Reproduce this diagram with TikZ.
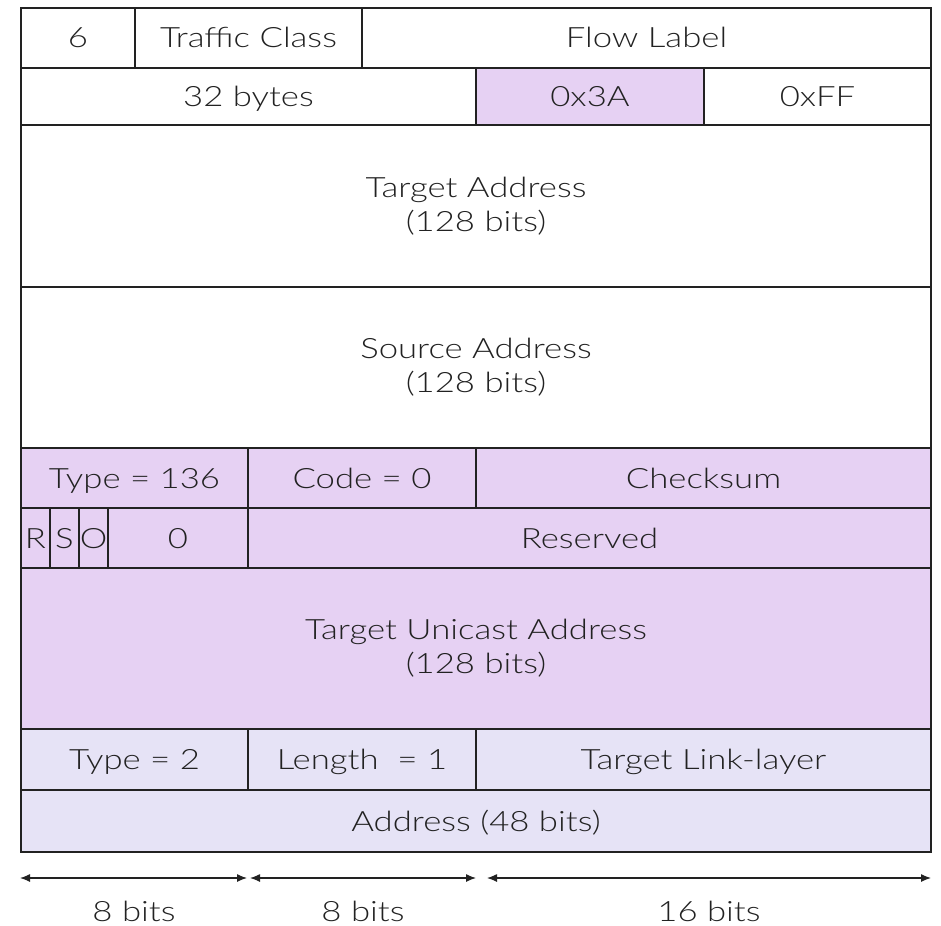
\documentclass[tikz,border=0pt]{standalone}
\usepackage{fontspec}
\setmainfont{Lato}[UprightFont=* Light, FakeStretch=1.24]
\usetikzlibrary{arrows.meta}
\definecolor{icmp}{HTML}{E6D1F3}
\definecolor{opt}{HTML}{E6E3F6}
\definecolor{ink}{HTML}{222222}
\tikzset{
  cell/.style={draw=ink, line width=1.2pt, inner sep=0pt, text=ink,
    font=\fontsize{28}{34}\selectfont, align=center},
  oneline/.style={text height=20pt, text depth=0pt},
  dim/.style={draw=ink, line width=1.2pt, {Latex[length=10pt,width=8pt]}-{Latex[length=10pt,width=8pt]}},
  dimlabel/.style={text=ink, inner sep=0pt, anchor=base, font=\fontsize{28}{34}\selectfont}
}
% \field{name}{x1}{y1}{x2}{y2}{style}{text}
\newcommand{\field}[7]{%
  \node[cell, #6, minimum width=#4pt-#2pt, minimum height=#5pt-#3pt]
    (#1) at ({(#2+#4)/2*1pt}, {-(#3+#5)/2*1pt}) {#7};}
\begin{document}
\begin{tikzpicture}[x=1pt,y=-1pt]
\useasboundingbox (0,0) rectangle (941,925);
% IPv6 header
\field{ver}{21}{8}{135}{68}{fill=white,oneline}{6}
\field{tc}{135}{8}{362}{68}{fill=white,oneline}{Traffic Class}
\field{flow}{362}{8}{931}{68}{fill=white,oneline}{Flow Label}
\field{plen}{21}{68}{476}{125}{fill=white,oneline}{32 bytes}
\field{nh}{476}{68}{704}{125}{fill=icmp,oneline}{0x3A}
\field{hop}{704}{68}{931}{125}{fill=white,oneline}{0xFF}
\field{dst}{21}{125}{931}{287}{fill=white}{Target Address\\(128 bits)}
\field{src}{21}{287}{931}{448}{fill=white}{Source Address\\(128 bits)}
% ICMPv6 neighbour advertisement
\field{type}{21}{448}{248}{508}{fill=icmp,oneline}{Type = 136}
\field{code}{248}{448}{476}{508}{fill=icmp,oneline}{Code = 0}
\field{csum}{476}{448}{931}{508}{fill=icmp,oneline}{Checksum}
\field{fr}{21}{508}{50}{568}{fill=icmp,oneline}{R}
\field{fs}{50}{508}{79}{568}{fill=icmp,oneline}{S}
\field{fo}{79}{508}{108}{568}{fill=icmp,oneline}{O}
\field{zero}{108}{508}{248}{568}{fill=icmp,oneline}{0}
\field{rsv}{248}{508}{931}{568}{fill=icmp,oneline}{Reserved}
\field{tgt}{21}{568}{931}{729}{fill=icmp}{Target Unicast Address\\(128 bits)}
% Target link-layer address option
\field{otype}{21}{729}{248}{790}{fill=opt,oneline}{Type = 2}
\field{olen}{248}{729}{476}{790}{fill=opt,oneline}{Length \ = 1}
\field{oll}{476}{729}{931}{790}{fill=opt,oneline}{Target Link-layer}
\field{oaddr}{21}{790}{931}{852}{fill=opt,oneline}{Address (48 bits)}
% Width scale
\coordinate (a0) at (20,878);
\coordinate (a1) at (247,878);
\coordinate (b0) at (250,878);
\coordinate (b1) at (476,878);
\coordinate (c0) at (487,878);
\coordinate (c1) at (931,878);
\draw[dim] (a0) -- (a1);
\draw[dim] (b0) -- (b1);
\draw[dim] (c0) -- (c1);
\node[dimlabel] (la) at (134,921) {8 bits};
\node[dimlabel] (lb) at (363,921) {8 bits};
\node[dimlabel] (lc) at (709,921) {16 bits};
\end{tikzpicture}
\end{document}
